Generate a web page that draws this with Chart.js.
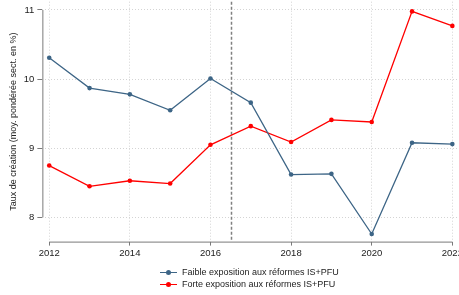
<!DOCTYPE html>
<html>
<head>
<meta charset="utf-8">
<script src="https://cdn.jsdelivr.net/npm/chart.js@4"></script>
<style>
  html, body { margin: 0; padding: 0; background: #fff; overflow: hidden; }
  #wrap { position: relative; width: 465px; height: 295px; overflow: hidden; }
  #box { position: absolute; left: 0; top: -7px; width: 465px; height: 306px; }
  .legend { position: absolute; left: 160px; font: 9px "Liberation Sans", Arial, sans-serif; color: #222; }
  .legend div { position: relative; height: 12px; line-height: 12px; padding-left: 22px; white-space: nowrap; }
  .legend i { position: absolute; left: 0; top: 6px; width: 17px; height: 1.3px; }
  .legend b { position: absolute; left: 6px; top: 4px; width: 5px; height: 5px; border-radius: 50%; }
</style>
</head>
<body>
<div id="wrap">
  <div id="box"><canvas id="chart"></canvas></div>
  <div class="legend" id="legend" style="top:266px"></div>
</div>
<script>
const years = [2012, 2013, 2014, 2015, 2016, 2017, 2018, 2019, 2020, 2021, 2022];
const faible = [10.31, 9.87, 9.78, 9.55, 10.01, 9.66, 8.62, 8.63, 7.76, 9.08, 9.06];
const forte = [8.75, 8.45, 8.53, 8.49, 9.05, 9.32, 9.09, 9.41, 9.38, 10.98, 10.77];
const xTicks = [2012, 2014, 2016, 2018, 2020, 2022];
const yTicks = [8, 9, 10, 11];
const reformYear = 2016.5;
const seriesNames = ['Faible exposition aux réformes IS+PFU', 'Forte exposition aux réformes IS+PFU'];
const seriesColors = ['#3d6586', '#ff0000'];
const yTitle = 'Taux de création (moy. pondérée sect. en %)';

const axisGray = '#7a7a7a';
const font = { family: '"Liberation Sans", Arial, sans-serif', size: 9.5 };

// stata style axes: lines only cover the tick range, plus the reform marker
const extras = {
  id: 'extras',
  beforeDatasetsDraw(chart) {
    const { ctx, chartArea, scales: { x, y } } = chart;
    ctx.save();
    ctx.strokeStyle = axisGray;
    ctx.lineWidth = 1;
    ctx.beginPath();
    ctx.moveTo(chartArea.left + 0.5, y.getPixelForValue(yTicks[0]));
    ctx.lineTo(chartArea.left + 0.5, y.getPixelForValue(yTicks[yTicks.length - 1]));
    ctx.moveTo(x.getPixelForValue(xTicks[0]), chartArea.bottom + 0.5);
    ctx.lineTo(x.getPixelForValue(xTicks[xTicks.length - 1]), chartArea.bottom + 0.5);
    ctx.stroke();
    const rx = Math.round(x.getPixelForValue(reformYear)) + 0.5;
    ctx.strokeStyle = '#808080';
    ctx.lineWidth = 1.5;
    ctx.setLineDash([3, 2]);
    ctx.beginPath();
    ctx.moveTo(rx, chartArea.top);
    ctx.lineTo(rx, chartArea.bottom);
    ctx.stroke();
    ctx.restore();
  }
};

const ctx = document.getElementById('chart').getContext('2d');
new Chart(ctx, {
  type: 'line',
  data: {
    datasets: [faible, forte].map((vals, i) => ({
      label: seriesNames[i],
      data: years.map((yr, j) => ({ x: yr, y: vals[j] })),
      borderColor: seriesColors[i],
      backgroundColor: seriesColors[i],
      borderWidth: 1.3,
      pointRadius: 2.3,
      pointBorderWidth: 0,
      tension: 0
    }))
  },
  options: {
    responsive: true,
    maintainAspectRatio: false,
    animation: false,
    layout: { padding: { left: 6, top: 3, bottom: 38, right: 0 } },
    plugins: { legend: { display: false }, tooltip: { enabled: false } },
    scales: {
      x: {
        type: 'linear',
        min: 2011.83,
        max: 2022.2,
        afterBuildTicks: s => { s.ticks = xTicks.map(v => ({ value: v })); },
        ticks: { font, color: '#222', padding: 2, maxRotation: 0, callback: v => String(v) },
        grid: { color: '#d4d4d4', lineWidth: 1, tickLength: 4, tickColor: axisGray },
        border: { display: false, dash: [1, 2] }
      },
      y: {
        min: 7.65,
        max: 11.12,
        afterBuildTicks: s => { s.ticks = yTicks.map(v => ({ value: v })); },
        ticks: { font, color: '#222', padding: 3 },
        grid: { color: '#d4d4d4', lineWidth: 1, tickLength: 5, tickColor: axisGray },
        border: { display: false, dash: [1, 2] },
        title: { display: true, text: yTitle, font: { family: font.family, size: 9 }, color: '#222', padding: 2 }
      }
    }
  },
  plugins: [extras]
});

const legend = document.getElementById('legend');
seriesNames.forEach((name, i) => {
  const row = document.createElement('div');
  row.innerHTML = '<i style="background:' + seriesColors[i] + '"></i><b style="background:' + seriesColors[i] + '"></b>';
  row.appendChild(document.createTextNode(name));
  legend.appendChild(row);
});
</script>
</body>
</html>
